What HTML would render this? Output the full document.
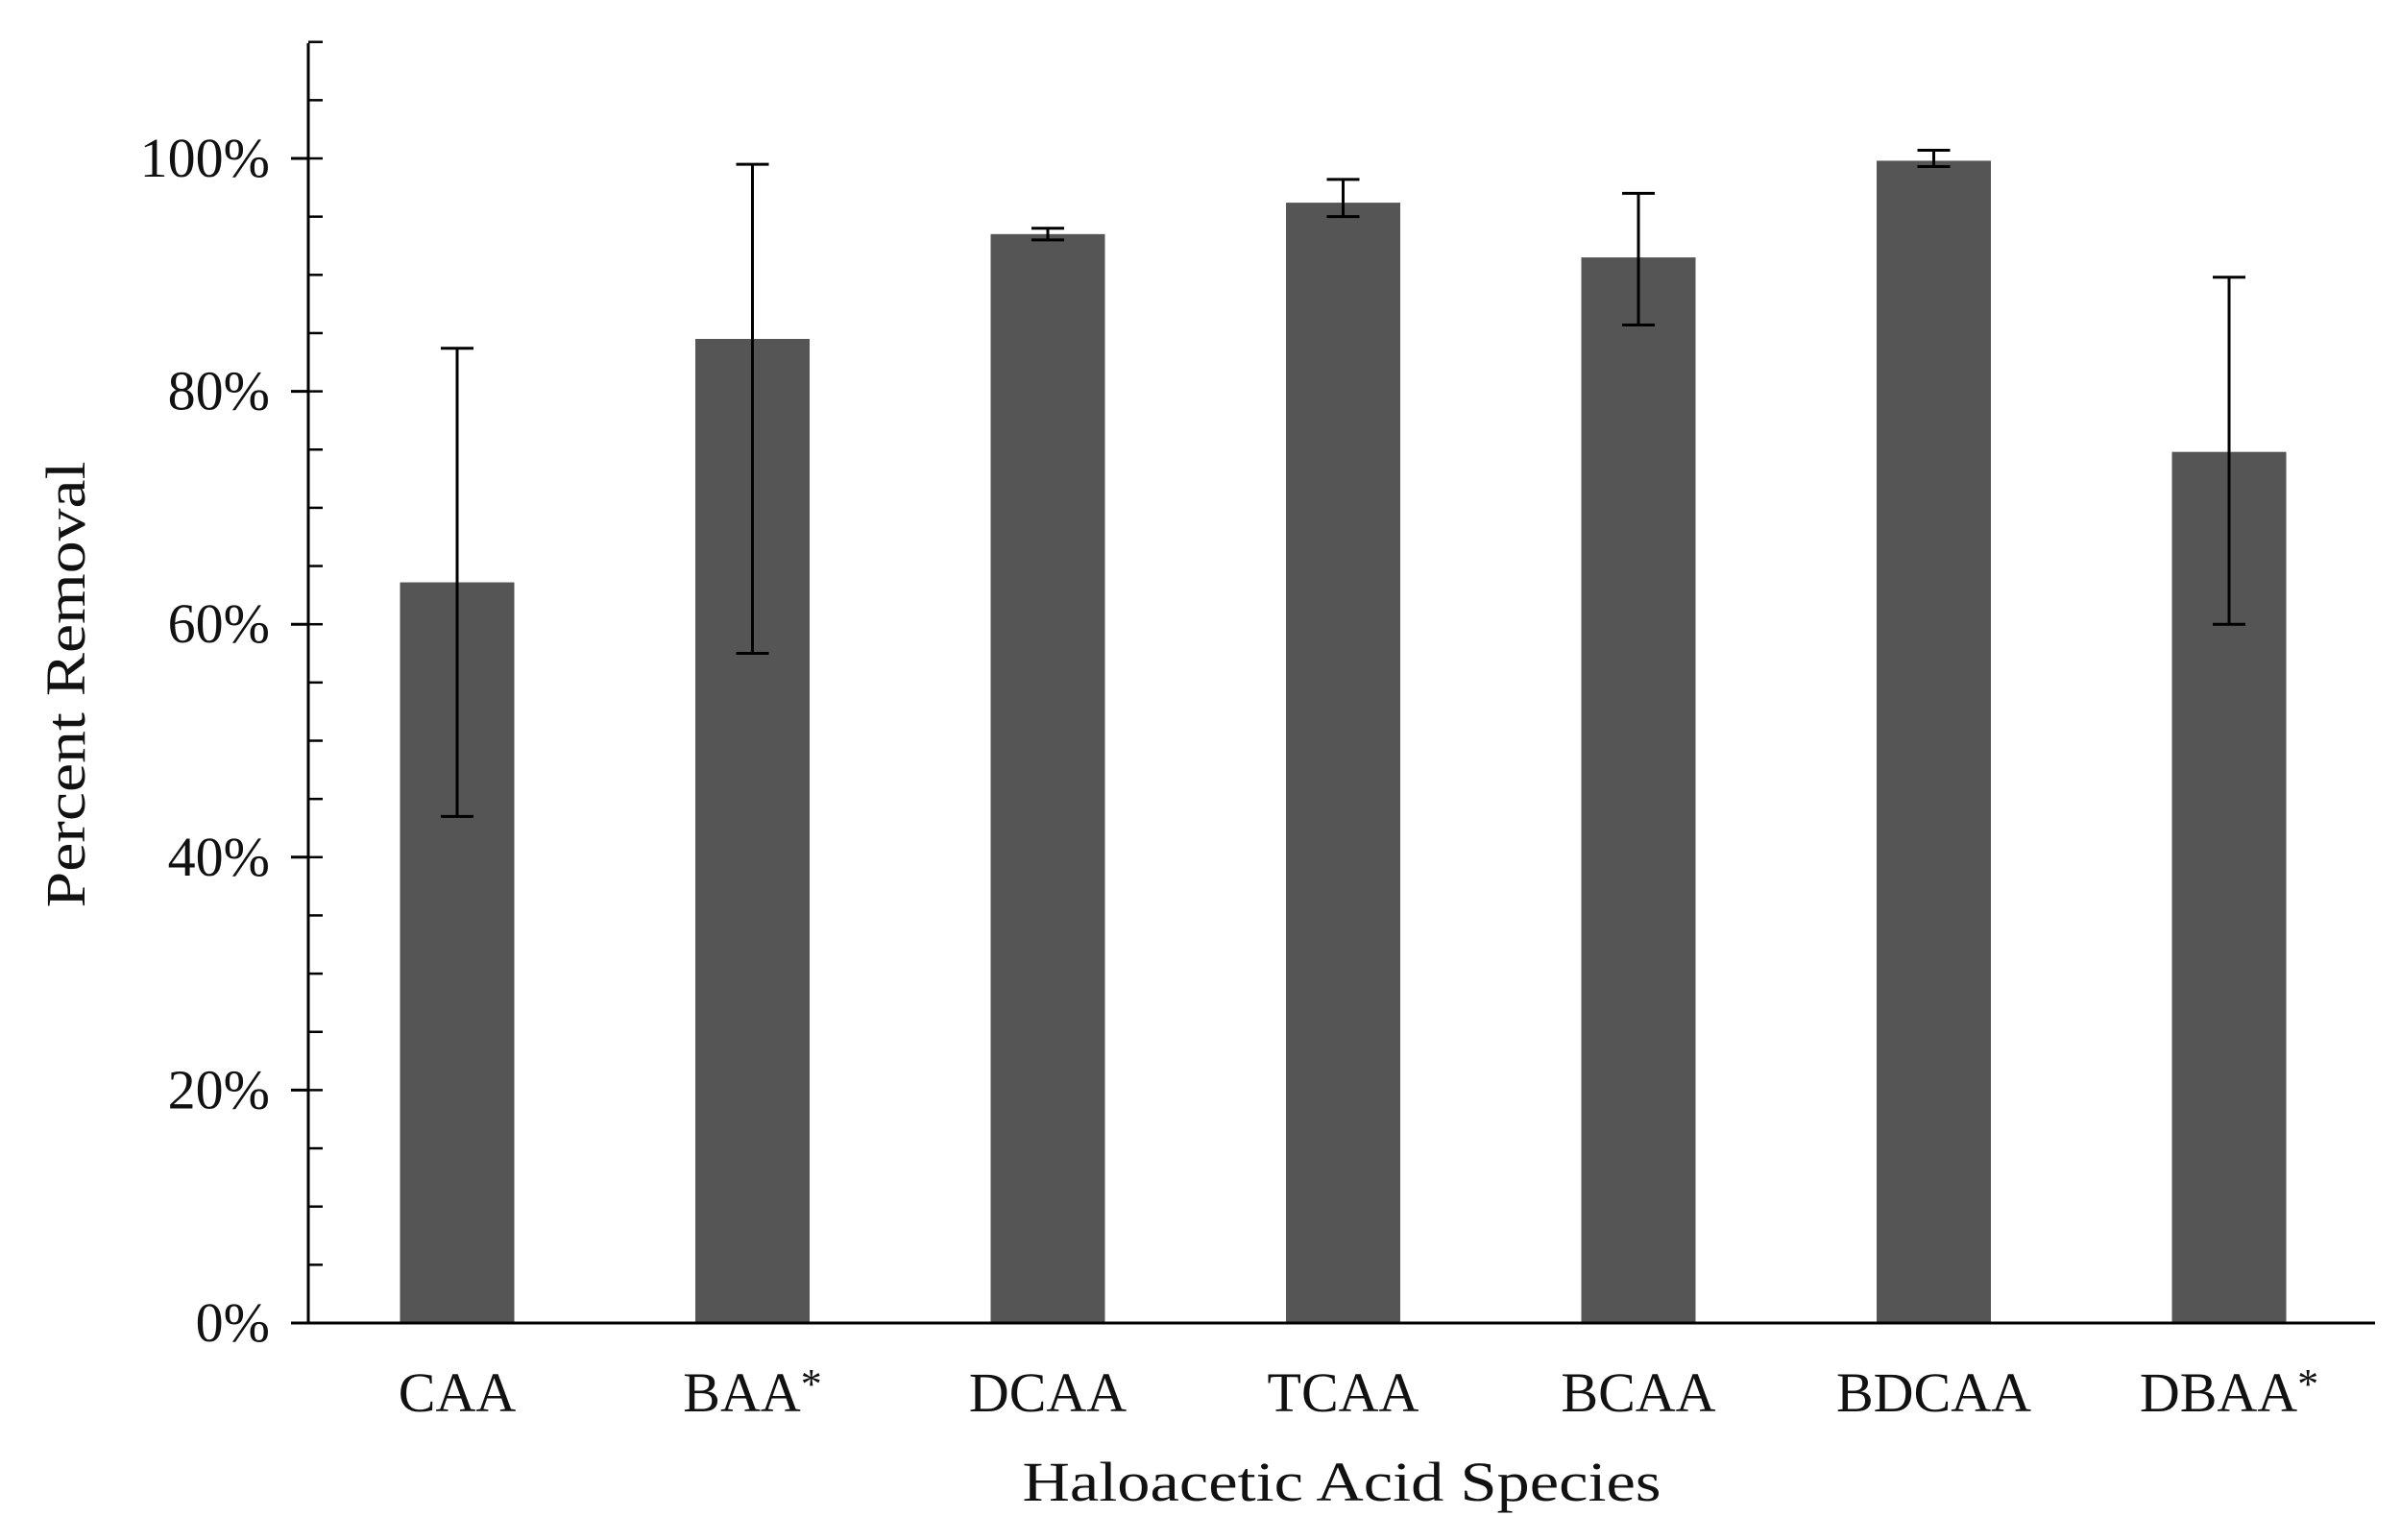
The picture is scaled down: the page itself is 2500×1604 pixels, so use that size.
<!DOCTYPE html>
<html><head><meta charset="utf-8"><style>
html,body{margin:0;padding:0;background:#fff;}
svg{display:block;}
text{font-family:"Liberation Serif",serif;fill:#111;}
</style></head><body>
<svg id="chart" width="2500" height="1604" viewBox="0 0 2500 1604" xmlns="http://www.w3.org/2000/svg">
<g id="bars"></g>
<g id="errs"></g>
<g id="axes"></g>
<text transform="translate(88,713) rotate(-90)" text-anchor="middle" font-size="58" textLength="465" lengthAdjust="spacingAndGlyphs">Percent Removal</text>
<text x="1397" y="1563" text-anchor="middle" font-size="58" textLength="665" lengthAdjust="spacingAndGlyphs">Haloacetic Acid Species</text>
</svg>
<script>
const categories = ["CAA","BAA*","DCAA","TCAA","BCAA","BDCAA","DBAA*"];
const values = [63.6, 84.5, 93.5, 96.2, 91.5, 99.8, 74.8];
const errLow = [43.5, 57.5, 93.0, 95.0, 85.7, 99.3, 60.0];
const errHigh = [83.7, 99.5, 94.0, 98.2, 97.0, 100.7, 89.8];
const yTicks = [0, 20, 40, 60, 80, 100];
const yTickLabels = ["0%","20%","40%","60%","80%","100%"];

const NS = "http://www.w3.org/2000/svg";
const x0 = 321, xEnd = 2473, yBase = 1378, yTop100 = 165;
const y = v => yBase - (yBase - yTop100) * v / 100;
const firstC = 476, step = 307.5;
const xc = i => firstC + i * step;
const barW = 119;
function mk(tag, attrs, parent){const e=document.createElementNS(NS,tag);for(const k in attrs)e.setAttribute(k,attrs[k]);parent.appendChild(e);return e;}
const gb = document.getElementById('bars'), ge = document.getElementById('errs'), ga = document.getElementById('axes');
categories.forEach((c,i)=>{
  const r = mk('rect',{x:xc(i)-barW/2,y:y(values[i]),width:barW,height:yBase-y(values[i]),fill:'#555555'},gb);
  
  
  const g = mk('g',{stroke:'#000','stroke-width':3},ge);
  
  
  mk('line',{x1:xc(i),x2:xc(i),y1:y(errLow[i]),y2:y(errHigh[i])},g);
  mk('line',{x1:xc(i)-17,x2:xc(i)+17,y1:y(errLow[i]),y2:y(errLow[i])},g);
  mk('line',{x1:xc(i)-17,x2:xc(i)+17,y1:y(errHigh[i]),y2:y(errHigh[i])},g);
  const t = mk('text',{x:xc(i),y:1470,'text-anchor':'middle','font-size':58},ga);
  
  
  if(c.endsWith('*')){t.textContent=c.slice(0,-1);const s=mk('tspan',{'dy':-14,'font-size':44},t);s.textContent='*';}
  else t.textContent=c;
});
const yl = mk('line',{x1:x0,x2:x0,y1:45,y2:yBase,stroke:'#000','stroke-width':3},ga);


const xl = mk('line',{x1:x0-18,x2:xEnd,y1:yBase,y2:yBase,stroke:'#000','stroke-width':3},ga);


for(let v=5; v<=110; v+=5){
  mk('line',{x1:x0,x2:x0+15,y1:y(v),y2:y(v),stroke:'#000','stroke-width':2.5},ga);
}
yTicks.forEach((v,i)=>{
  mk('line',{x1:x0-18,x2:x0,y1:y(v),y2:y(v),stroke:'#000','stroke-width':3},ga);
  const t = mk('text',{x:x0-40,y:y(v)+19,'text-anchor':'end','font-size':58},ga);
  
  
  t.textContent=yTickLabels[i];
});
</script>
</body></html>
